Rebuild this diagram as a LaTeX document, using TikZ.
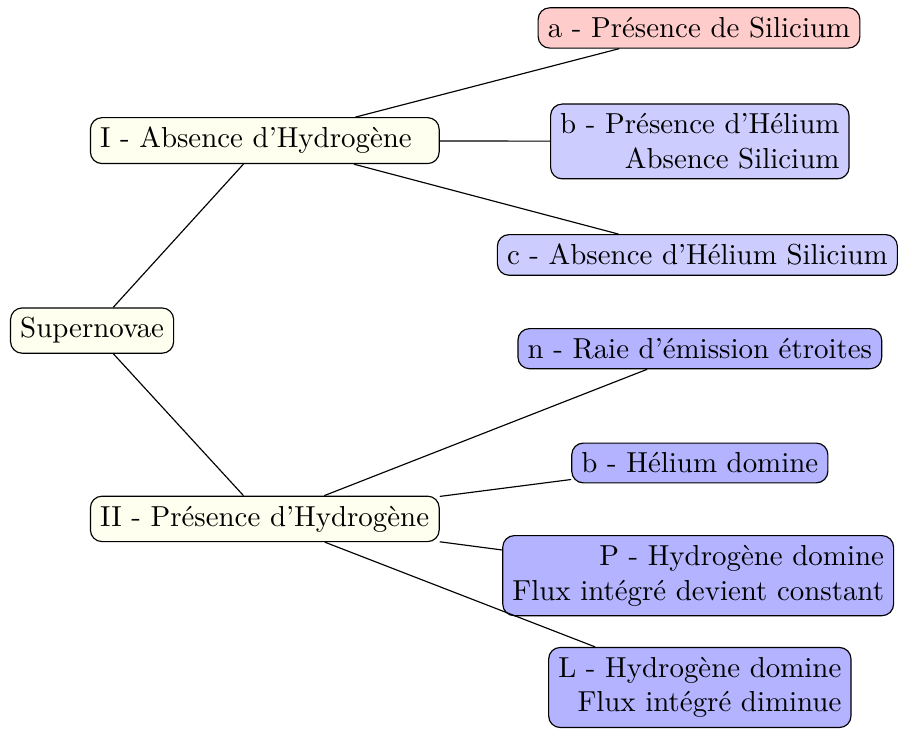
\documentclass[tikz,border=0pt]{standalone}
\usepackage{tikz}
\definecolor{NovaIvory}{HTML}{FFFFF0}
\definecolor{NovaRose}{HTML}{FFCCCC}
\definecolor{NovaLilac}{HTML}{CCCCFF}
\definecolor{NovaBlue}{HTML}{B3B3FF}

\begin{document}
\begin{tikzpicture}[font=\normalsize,
    box/.style={draw,rounded corners=4pt},
    rootbox/.style={box,fill=NovaIvory},
    typebox/.style={box,fill=NovaIvory,text width=114pt,align=left},
    rosebox/.style={box,fill=NovaRose,align=right},
    lilacbox/.style={box,fill=NovaLilac,align=right},
    bluebox/.style={box,fill=NovaBlue,align=right}]
  \useasboundingbox (0,0) rectangle (10.92,8.86);
  \node[rootbox] (sn) at (1.12,4.84) {Supernovae};
  \node[typebox] (t1) at (3.22,7.15) {I - Absence d'Hydrogène};
  \node[typebox] (t2) at (3.22,2.55) {II - Présence d'Hydrogène};
  % sous-types I
  \node[rosebox]  (ia) at (8.50,8.52) {a - Présence de Silicium};
  \node[lilacbox] (ib) at (8.51,7.14) {b - Présence d'Hélium\\Absence Silicium};
  \node[lilacbox] (ic) at (8.48,5.76) {c - Absence d'Hélium Silicium};
  % sous-types II
  \node[bluebox] (iin) at (8.51,4.62) {n - Raie d'émission étroites};
  \node[bluebox] (iib) at (8.51,3.23) {b - Hélium domine};
  \node[bluebox] (iip) at (8.49,1.86) {P - Hydrogène domine\\Flux intégré devient constant};
  \node[bluebox] (iil) at (8.51,0.50) {L - Hydrogène domine\\Flux intégré diminue};
  \draw (sn) -- (t1);
  \draw (sn) -- (t2);
  \foreach \k in {ia,ib,ic} \draw (t1) -- (\k);
  \foreach \k in {iin,iib,iip,iil} \draw (t2) -- (\k);
\end{tikzpicture}
\end{document}
